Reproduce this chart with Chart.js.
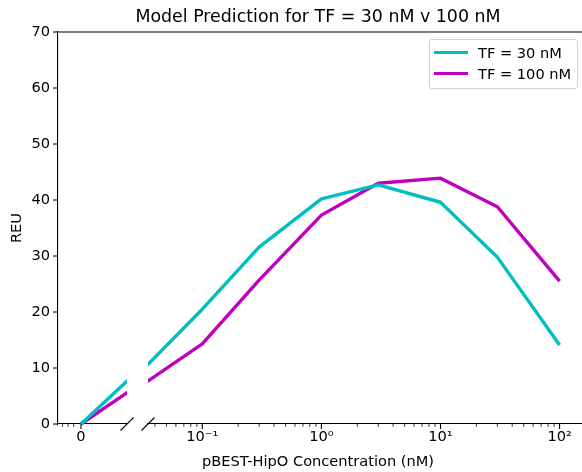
<!DOCTYPE html>
<html>
<head>
<meta charset="utf-8">
<script src="https://cdn.jsdelivr.net/npm/chart.js@4"></script>
<style>
  html, body { margin: 0; padding: 0; background: #fff; }
  #fig {
    position: relative; width: 582px; height: 472px; overflow: hidden;
    font-family: 'DejaVu Sans', sans-serif; color: #000;
  }
  #fig canvas { position: absolute; left: 0; top: 0; }
  #title {
    position: absolute; left: 0; width: 636px; top: 6px;
    text-align: center; font-size: 17.4px; line-height: 20px; white-space: nowrap;
  }
  #xlabel {
    position: absolute; left: 0; width: 636px; top: 452px;
    text-align: center; font-size: 14.6px; line-height: 18px; white-space: nowrap;
  }
  #legend {
    position: absolute; left: 429px; top: 39px; width: 147px; height: 48px;
    border: 1px solid #d0d0d0; border-radius: 3px; background: rgba(255,255,255,0.8);
  }
  .item { position: absolute; left: 0; height: 20px; width: 147px; }
  .item .swatch { position: absolute; left: 4px; top: 8px; width: 34px; height: 3.4px; }
  .item .txt { position: absolute; left: 48px; top: 0; font-size: 14.6px; line-height: 20px; white-space: nowrap; }
</style>
</head>
<body>
<div id="fig">
  <canvas id="leftPart" width="600" height="472"></canvas>
  <canvas id="rightPart" width="600" height="472"></canvas>
  <div id="title">Model Prediction for TF = 30 nM v 100 nM</div>
  <div id="xlabel">pBEST-HipO Concentration (nM)</div>
  <div id="legend"></div>
</div>
<script>
'use strict';

// ---- data ----
const concentration = [0, 0.03, 0.1, 0.3, 1, 3, 10, 30, 100];
const reuTF30  = [0, 9.2, 20.5, 31.6, 40.2, 42.7, 39.6, 29.8, 14.1];
const reuTF100 = [0, 6.7, 14.3, 25.7, 37.3, 43.0, 43.9, 38.8, 25.5];

const seriesLabels = ['TF = 30 nM', 'TF = 100 nM'];
const seriesColors = ['#00BFBF', '#BF00BF'];

// ---- tick labels ----
const yTickValues = [0, 10, 20, 30, 40, 50, 60, 70];
const leftMinorTicks = [-0.01, -0.007, -0.004];
const logMajorTicks = [0.1, 1, 10, 100];
const logTickLabels = ['10\u207B\u00B9', '10\u2070', '10\u00B9', '10\u00B2'];

const FONT = { family: "'DejaVu Sans', sans-serif", size: 14.6 };

// legend (html)
const legendEl = document.getElementById('legend');
seriesLabels.forEach((lab, i) => {
  const row = document.createElement('div');
  row.className = 'item';
  row.style.top = (3 + i * 21) + 'px';
  row.innerHTML = `<div class="swatch" style="background:${seriesColors[i]}"></div><div class="txt">${lab}</div>`;
  legendEl.appendChild(row);
});

// ticks, top spine and the break marks
const spines = {
  id: 'spines',
  afterDraw(chart, args, opts) {
    const ctx = chart.ctx;
    const a = chart.chartArea;
    const xs = chart.scales.x;
    ctx.save();
    ctx.strokeStyle = '#000';
    xs.ticks.forEach(t => {
      const major = t.label !== '' && t.label != null;
      const px = xs.getPixelForValue(t.value);
      ctx.lineWidth = major ? 1.1 : 0.8;
      ctx.beginPath();
      ctx.moveTo(px, a.bottom);
      ctx.lineTo(px, a.bottom + (major ? 4.9 : 2.8));
      ctx.stroke();
    });
    if (opts.yTicks) {
      const ys = chart.scales.y;
      ys.ticks.forEach(t => {
        const py = ys.getPixelForValue(t.value);
        ctx.lineWidth = 1.1;
        ctx.beginPath();
        ctx.moveTo(a.left - 4.9, py);
        ctx.lineTo(a.left, py);
        ctx.stroke();
      });
      // top spine runs across the gap
      ctx.lineWidth = 1.1;
      ctx.beginPath();
      ctx.moveTo(a.left, a.top);
      ctx.lineTo(chart.width, a.top);
      ctx.stroke();
    }
    const bx = opts.breakSide === 'right' ? a.right : a.left;
    ctx.lineWidth = 1.1;
    ctx.beginPath();
    ctx.moveTo(bx - 6.5, a.bottom + 6.5);
    ctx.lineTo(bx + 6.5, a.bottom - 6.5);
    ctx.stroke();
    ctx.restore();
  }
};

function makeDatasets(xs, start, clip) {
  return [reuTF30, reuTF100].map((vals, i) => ({
    label: seriesLabels[i],
    data: xs.slice(start).map((x, j) => ({ x, y: vals[start + j] })),
    borderColor: seriesColors[i],
    borderWidth: 3.4,
    pointRadius: 0,
    tension: 0,
    borderJoinStyle: 'round',
    clip,
  }));
}

function buildLogTicks(min, max) {
  const out = [];
  for (let e = -2; e <= 2; e++) {
    for (let m = 1; m <= 9; m++) {
      const v = Number((m * Math.pow(10, e)).toPrecision(3));
      if (v >= min && v <= max) out.push({ value: v, major: m === 1 });
    }
  }
  return out;
}

const noGrid = { display: false, drawTicks: false };
const spine = { display: true, color: '#000', width: 1.1 };

const yScaleBase = {
  min: 0, max: 70,
  afterBuildTicks: s => { s.ticks = yTickValues.map(v => ({ value: v })); },
};

// ---- left part: linear axis round 0 ----
new Chart(document.getElementById('leftPart'), {
  type: 'line',
  data: { datasets: makeDatasets(concentration, 0, { left: 5, top: 5, right: 0, bottom: 5 }) },
  plugins: [spines],
  options: {
    responsive: false,
    animation: false,
    layout: { padding: { top: 32, right: 473, bottom: 0, left: 0 } },
    plugins: {
      legend: { display: false },
      tooltip: { enabled: false },
      spines: { yTicks: true, breakSide: 'right' },
    },
    scales: {
      x: {
        type: 'linear', min: -0.0125, max: 0.025,
        afterBuildTicks: s => {
          s.ticks = leftMinorTicks.map(v => ({ value: v })).concat([{ value: 0 }]);
        },
        afterFit: s => { s.height = 48; },
        grid: noGrid,
        border: spine,
        ticks: {
          autoSkip: false, maxRotation: 0, padding: 4, color: '#000', font: FONT,
          callback: v => (v === 0 ? '0' : ''),
        },
      },
      y: {
        ...yScaleBase,
        afterFit: s => { s.width = 58; },
        grid: noGrid,
        border: spine,
        ticks: { padding: 8, color: '#000', font: FONT, callback: v => String(v) },
        title: { display: true, text: 'REU', color: '#000', font: FONT, padding: { top: 8, bottom: 0 } },
      },
    },
  },
});

// ---- right part: log axis ----
new Chart(document.getElementById('rightPart'), {
  type: 'line',
  data: { datasets: makeDatasets(concentration, 1, { left: 0, top: 5, right: 5, bottom: 5 }) },
  plugins: [spines],
  options: {
    responsive: false,
    animation: false,
    layout: { padding: { top: 32, right: 10, bottom: 0, left: 148 } },
    plugins: {
      legend: { display: false },
      tooltip: { enabled: false },
      spines: { yTicks: false, breakSide: 'left' },
    },
    scales: {
      x: {
        type: 'logarithmic', min: 0.035, max: 180,
        afterBuildTicks: s => { s.ticks = buildLogTicks(0.035, 180); },
        afterFit: s => { s.height = 48; },
        grid: noGrid,
        border: spine,
        ticks: {
          autoSkip: false, maxRotation: 0, padding: 4, color: '#000', font: FONT,
          callback: v => {
            const i = logMajorTicks.indexOf(Number(v));
            return i >= 0 ? logTickLabels[i] : '';
          },
        },
      },
      y: { ...yScaleBase, display: false },
    },
  },
});
</script>
</body>
</html>
